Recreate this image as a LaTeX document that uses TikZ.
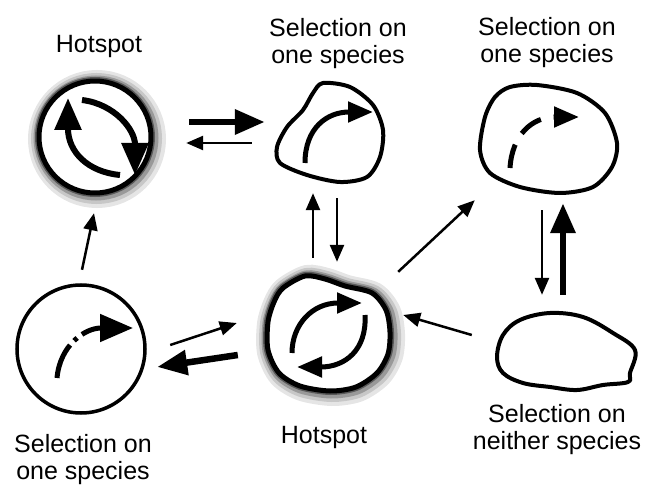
\documentclass[tikz,border=0pt]{standalone}
\usepackage{fontspec}
\setmainfont{Liberation Sans}
\usetikzlibrary{arrows.meta,calc}

\tikzset{
  cell/.style={inner sep=0pt, rectangle},
  lbl/.style={inner sep=0pt, align=center, anchor=north, font=\fontsize{25}{27}\selectfont},
  blob/.style={line width=4pt, line join=round},
  halo/.style={line width=5pt, line join=round, fill=white,
    preaction={draw=black!10, line width=26pt, transform canvas={shift={(2pt,-2pt)}}},
    preaction={draw=black!22, line width=19pt, transform canvas={shift={(1.5pt,-1.5pt)}}},
    preaction={draw=black!40, line width=13pt, transform canvas={shift={(1pt,-1pt)}}},
    preaction={draw=black!65, line width=8pt}},
  inarr/.style={line width=5pt, -{Triangle[length=25pt, width=20pt]}},
  bigarr/.style={line width=6pt, -{Triangle[length=32pt, width=26pt]}},
  thinarr/.style={line width=2.5pt, -{Triangle[length=17pt, width=14pt]}},
  thickarr/.style={line width=6.5pt, -{Triangle[length=30pt, width=24pt]}}
}

\begin{document}
\begin{tikzpicture}[x=1pt, y=-1pt]
    \useasboundingbox (0,0) rectangle (662,492);

    % cells
    \node[cell, minimum width=140pt, minimum height=136pt] (hsA) at (95,137) {};
    \node[cell, minimum width=108pt, minimum height=101pt] (selA) at (331,132.5) {};
    \node[cell, minimum width=138pt, minimum height=108pt] (selB) at (549,139) {};
    \node[cell, minimum width=128pt, minimum height=128pt] (selC) at (81,349) {};
    \node[cell, minimum width=136pt, minimum height=128pt] (hsB) at (330,336) {};
    \node[cell, minimum width=141pt, minimum height=78pt] (nei) at (567.5,351) {};

    % hotspot, top left
    \draw[halo] (95,137) circle[radius=56pt];
    \draw[bigarr] (120,175) .. controls (88,172) and (68,152) .. (68,98);
    \draw[bigarr] (82,100) .. controls (115,104) and (135,130) .. (135,175);

    % selection, top middle
    \draw[blob] plot[smooth cycle] coordinates {(323,83) (350,87) (373,105) (383,130) (380,157) (367,177) (340,182) (307,175) (280,163) (277,147) (287,127) (303,110) (313,93)};
    \draw[inarr] (305,163) .. controls (305,128) and (327,112) .. (373,112);

    % selection, top right
    \draw[blob] plot[smooth cycle] coordinates {(510,87) (537,85) (577,93) (605,113) (617,143) (612,167) (593,187) (560,193) (520,187) (490,173) (480,150) (485,117) (495,97)};
    \draw[inarr, dash pattern=on 24pt off 13pt] (510,168) .. controls (512,135) and (532,117) .. (579,117);

    % selection, bottom left
    \draw[line width=3.5pt] (81,349) circle[radius=64pt];
    \draw[inarr, -{Triangle[length=33pt, width=27pt]}, dash pattern=on 36pt off 6pt on 4pt off 6pt on 100pt off 0pt] (57,378) .. controls (60,345) and (85,328) .. (133,328);

    % hotspot, bottom middle
    \draw[halo] plot[smooth cycle] coordinates {(283,288) (305,276) (325,279) (345,286) (372,293) (386,310) (390,332) (388,354) (377,373) (356,387) (330,391) (300,386) (279,373) (268,350) (268,322) (274,302)};
    \draw[inarr] (292,353) .. controls (292,325) and (312,303) .. (362,303);
    \draw[inarr] (365,315) .. controls (367,350) and (345,367) .. (297,367);

    % neither, bottom right
    \draw[blob] plot[smooth cycle, tension=0.6] coordinates {(503,335) (520,320) (550,313) (583,317) (613,333) (635,350) (630,373) (628,382) (603,385) (577,390) (550,387) (523,383) (503,373) (497,357)};

    % labels
    \node[lbl] (lblA) at (99,35) {Hotspot};
    \node[lbl] (lblB) at (338,18) {Selection on\\one species};
    \node[lbl] (lblC) at (547,17) {Selection on\\one species};
    \node[lbl] (lblD) at (83,434) {Selection on\\one species};
    \node[lbl] (lblE) at (324,426) {Hotspot};
    \node[lbl] (lblF) at (557,404) {Selection on\\neither species};

    % transitions
    \draw[thickarr] ($(hsA.east)+(24,-15)$) -- ($(selA.west)+(-12,-10.5)$);
    \draw[thinarr] ($(selA.west)+(-25,10.5)$) -- ($(hsA.east)+(21,6)$);
    \draw[thinarr] ($(hsB.north)+(-17,-14)$) -- ($(selA.south)+(-18,10)$);
    \draw[thinarr] ($(selA.south)+(6,15)$) -- ($(hsB.north)+(7,-10)$);
    \draw[thinarr] (hsB.north east) -- ($(selB.south west)+(-5,7)$);
    \draw[thinarr] ($(selB.south)+(-7,17)$) -- ($(nei.north)+(-25.5,-17)$);
    \draw[thickarr] ($(nei.north)+(-4.5,-17)$) -- ($(selB.south)+(14,10)$);
    \draw[thinarr] ($(nei.west)+(-25,-16)$) -- ($(hsB.east)+(5,-21)$);
    \draw[thinarr] ($(selC.east)+(25,-4)$) -- ($(hsB.west)+(-25,-13)$);
    \draw[thickarr] ($(hsB.west)+(-24,19)$) -- ($(selC.east)+(12,18)$);
    \draw[thinarr] ($(selC.north)+(1,-15)$) -- ($(hsA.south)+(-1,8)$);
\end{tikzpicture}
\end{document}
